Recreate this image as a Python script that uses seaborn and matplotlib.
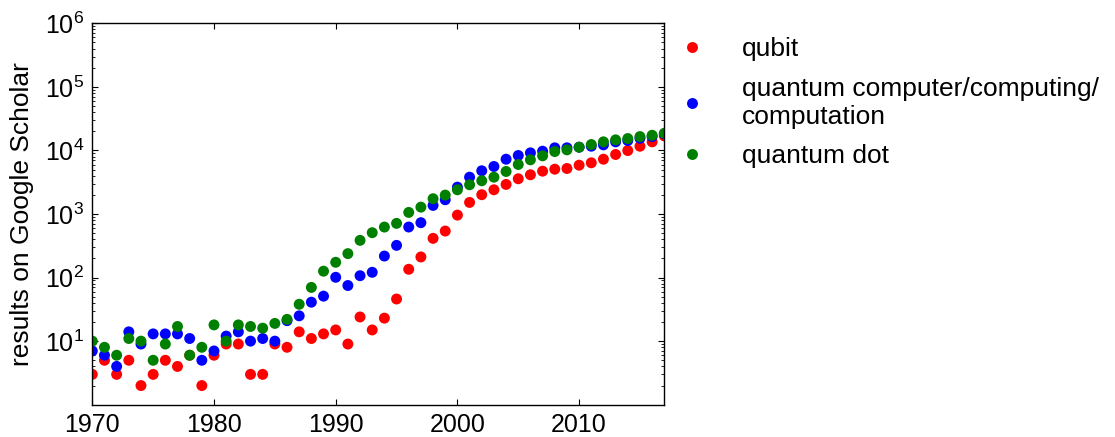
import numpy as np
import pandas as pd
import matplotlib
matplotlib.use("Agg")
import matplotlib.pyplot as plt
import matplotlib.ticker as mticker
import seaborn as sns

years = list(range(1970, 2018))

qubit = [3, 5, 3, 5, 2, 3, 5, 4, 6, 2,
         6, 9, 9, 3, 3, 9, 8, 14, 11, 13,
         15, 9, 24, 15, 23, 46, 135, 211, 414, 539,
         961, 1521, 2011, 2405, 2917, 3583, 4140, 4716, 5070, 5200,
         5860, 6390, 7280, 8630, 9960, 11640, 13650, 16940]

qcomp = [7, 6, 4, 14, 9, 13, 13, 13, 11, 5,
         7, 12, 14, 10, 11, 10, 21, 25, 41, 51,
         101, 75, 107, 121, 218, 321, 624, 730, 1365, 1676,
         2645, 3795, 4786, 5590, 7278, 8318, 9164, 9723, 10990, 10990,
         11240, 11650, 12240, 13650, 14300, 15540, 16520, 18240]

qdot = [10, 8, 6, 11, 10, 5, 9, 17, 6, 8,
        18, 10, 18, 17, 16, 19, 22, 38, 70, 126,
        174, 238, 385, 508, 623, 712, 1059, 1283, 1740, 1983,
        2405, 2884, 3334, 3795, 4667, 6012, 7118, 8227, 9608, 10210,
        11240, 12380, 13650, 14670, 15380, 16520, 17320, 18620]

labels = ["qubit", "quantum computer/computing/\ncomputation", "quantum dot"]
colors = ["#ff0000", "#0000ff", "#008000"]

df = pd.concat([
    pd.DataFrame({"year": years, "count": qubit, "term": labels[0]}),
    pd.DataFrame({"year": years, "count": qcomp, "term": labels[1]}),
    pd.DataFrame({"year": years, "count": qdot, "term": labels[2]}),
], ignore_index=True)

sns.set_style("white", rc={"text.color": "black", "axes.labelcolor": "black",
                           "xtick.color": "black", "ytick.color": "black",
                           "axes.edgecolor": "black"})
plt.rcParams["font.family"] = ["Liberation Sans", "DejaVu Sans"]
plt.rcParams["mathtext.fontset"] = "custom"
plt.rcParams["mathtext.rm"] = "Liberation Sans"
plt.rcParams["mathtext.it"] = "Liberation Sans:italic"
plt.rcParams["mathtext.bf"] = "Liberation Sans:bold"

fig = plt.figure(figsize=(11.15, 4.37), dpi=100)
ax = fig.add_axes([92.3 / 1115, 1 - 404.7 / 437, (664.3 - 92.3) / 1115, (404.7 - 23.3) / 437])

sns.scatterplot(data=df, x="year", y="count", hue="term",
                palette=dict(zip(labels, colors)), hue_order=labels,
                s=62, linewidth=0, ax=ax, legend=True, clip_on=True)

ax.set_yscale("log")
ax.set_xlim(1970, 2017)
ax.set_ylim(1, 1e6)
ax.yaxis.set_major_locator(mticker.FixedLocator([1e1, 1e2, 1e3, 1e4, 1e5, 1e6]))
ax.yaxis.set_major_formatter(mticker.LogFormatterSciNotation())
ax.yaxis.set_minor_locator(mticker.LogLocator(base=10, subs=np.arange(2, 10)))
ax.yaxis.set_minor_formatter(mticker.NullFormatter())
ax.xaxis.set_major_locator(mticker.FixedLocator([1970, 1980, 1990, 2000, 2010]))
ax.xaxis.set_major_formatter(mticker.FormatStrFormatter("%d"))

ax.tick_params(which="both", direction="in", top=True, right=True,
               bottom=True, left=True, color="black", labelcolor="black")
ax.tick_params(which="major", length=4, width=0.8, labelsize=18, pad=6)
ax.tick_params(which="minor", length=2, width=0.6)
for sp in ax.spines.values():
    sp.set_color("black")
    sp.set_linewidth(1.0)

ax.set_xlabel("")
ax.set_ylabel("results on Google Scholar", fontsize=19, labelpad=8, color="black")

handles, labs = ax.get_legend_handles_labels()
ax.get_legend().remove()
leg = fig.legend(handles, labs, loc="upper left",
                 bbox_to_anchor=(679 / 1115, 1 - 37 / 437),
                 frameon=False, fontsize=19, handlelength=1.0,
                 handletextpad=1.4, borderpad=0, borderaxespad=0,
                 labelspacing=0.6, markerscale=1.0)
for t in leg.get_texts():
    t.set_color("black")

fig.savefig("out.png", dpi=100)
